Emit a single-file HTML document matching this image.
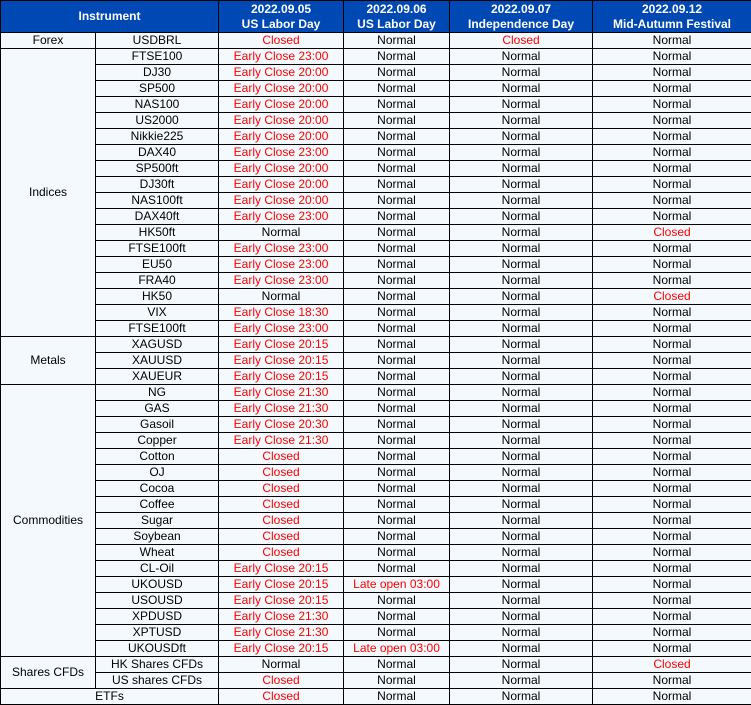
<!DOCTYPE html>
<html><head><meta charset="utf-8"><style>
html,body{margin:0;padding:0;background:#fff;}
table{border-collapse:collapse;table-layout:fixed;width:751px;font-family:"Liberation Sans","DejaVu Sans",sans-serif;font-size:12px;}
td,th{border:1px solid #000;padding:0;text-align:center;height:15px;line-height:15px;background:#f4f9fd;color:#000;white-space:nowrap;overflow:hidden;}
th{background:#0049b4;color:#fff;font-weight:bold;height:31px;line-height:15px;font-size:12px;}
.r{color:#ff0000;}
</style></head><body>
<table>
<colgroup><col style="width:95px"><col style="width:123px"><col style="width:125px"><col style="width:106px"><col style="width:143px"><col style="width:159px"></colgroup>
<tr><th colspan="2">Instrument</th><th>2022.09.05<br>US Labor Day</th><th>2022.09.06<br>US Labor Day</th><th>2022.09.07<br>Independence Day</th><th>2022.09.12<br>Mid-Autumn Festival</th></tr>
<tr><td>Forex</td><td>USDBRL</td><td class="r">Closed</td><td>Normal</td><td class="r">Closed</td><td>Normal</td></tr>
<tr><td rowspan="18">Indices</td><td>FTSE100</td><td class="r">Early Close 23:00</td><td>Normal</td><td>Normal</td><td>Normal</td></tr>
<tr><td>DJ30</td><td class="r">Early Close 20:00</td><td>Normal</td><td>Normal</td><td>Normal</td></tr>
<tr><td>SP500</td><td class="r">Early Close 20:00</td><td>Normal</td><td>Normal</td><td>Normal</td></tr>
<tr><td>NAS100</td><td class="r">Early Close 20:00</td><td>Normal</td><td>Normal</td><td>Normal</td></tr>
<tr><td>US2000</td><td class="r">Early Close 20:00</td><td>Normal</td><td>Normal</td><td>Normal</td></tr>
<tr><td>Nikkie225</td><td class="r">Early Close 20:00</td><td>Normal</td><td>Normal</td><td>Normal</td></tr>
<tr><td>DAX40</td><td class="r">Early Close 23:00</td><td>Normal</td><td>Normal</td><td>Normal</td></tr>
<tr><td>SP500ft</td><td class="r">Early Close 20:00</td><td>Normal</td><td>Normal</td><td>Normal</td></tr>
<tr><td>DJ30ft</td><td class="r">Early Close 20:00</td><td>Normal</td><td>Normal</td><td>Normal</td></tr>
<tr><td>NAS100ft</td><td class="r">Early Close 20:00</td><td>Normal</td><td>Normal</td><td>Normal</td></tr>
<tr><td>DAX40ft</td><td class="r">Early Close 23:00</td><td>Normal</td><td>Normal</td><td>Normal</td></tr>
<tr><td>HK50ft</td><td>Normal</td><td>Normal</td><td>Normal</td><td class="r">Closed</td></tr>
<tr><td>FTSE100ft</td><td class="r">Early Close 23:00</td><td>Normal</td><td>Normal</td><td>Normal</td></tr>
<tr><td>EU50</td><td class="r">Early Close 23:00</td><td>Normal</td><td>Normal</td><td>Normal</td></tr>
<tr><td>FRA40</td><td class="r">Early Close 23:00</td><td>Normal</td><td>Normal</td><td>Normal</td></tr>
<tr><td>HK50</td><td>Normal</td><td>Normal</td><td>Normal</td><td class="r">Closed</td></tr>
<tr><td>VIX</td><td class="r">Early Close 18:30</td><td>Normal</td><td>Normal</td><td>Normal</td></tr>
<tr><td>FTSE100ft</td><td class="r">Early Close 23:00</td><td>Normal</td><td>Normal</td><td>Normal</td></tr>
<tr><td rowspan="3">Metals</td><td>XAGUSD</td><td class="r">Early Close 20:15</td><td>Normal</td><td>Normal</td><td>Normal</td></tr>
<tr><td>XAUUSD</td><td class="r">Early Close 20:15</td><td>Normal</td><td>Normal</td><td>Normal</td></tr>
<tr><td>XAUEUR</td><td class="r">Early Close 20:15</td><td>Normal</td><td>Normal</td><td>Normal</td></tr>
<tr><td rowspan="17">Commodities</td><td>NG</td><td class="r">Early Close 21:30</td><td>Normal</td><td>Normal</td><td>Normal</td></tr>
<tr><td>GAS</td><td class="r">Early Close 21:30</td><td>Normal</td><td>Normal</td><td>Normal</td></tr>
<tr><td>Gasoil</td><td class="r">Early Close 20:30</td><td>Normal</td><td>Normal</td><td>Normal</td></tr>
<tr><td>Copper</td><td class="r">Early Close 21:30</td><td>Normal</td><td>Normal</td><td>Normal</td></tr>
<tr><td>Cotton</td><td class="r">Closed</td><td>Normal</td><td>Normal</td><td>Normal</td></tr>
<tr><td>OJ</td><td class="r">Closed</td><td>Normal</td><td>Normal</td><td>Normal</td></tr>
<tr><td>Cocoa</td><td class="r">Closed</td><td>Normal</td><td>Normal</td><td>Normal</td></tr>
<tr><td>Coffee</td><td class="r">Closed</td><td>Normal</td><td>Normal</td><td>Normal</td></tr>
<tr><td>Sugar</td><td class="r">Closed</td><td>Normal</td><td>Normal</td><td>Normal</td></tr>
<tr><td>Soybean</td><td class="r">Closed</td><td>Normal</td><td>Normal</td><td>Normal</td></tr>
<tr><td>Wheat</td><td class="r">Closed</td><td>Normal</td><td>Normal</td><td>Normal</td></tr>
<tr><td>CL-Oil</td><td class="r">Early Close 20:15</td><td>Normal</td><td>Normal</td><td>Normal</td></tr>
<tr><td>UKOUSD</td><td class="r">Early Close 20:15</td><td class="r">Late open 03:00</td><td>Normal</td><td>Normal</td></tr>
<tr><td>USOUSD</td><td class="r">Early Close 20:15</td><td>Normal</td><td>Normal</td><td>Normal</td></tr>
<tr><td>XPDUSD</td><td class="r">Early Close 21:30</td><td>Normal</td><td>Normal</td><td>Normal</td></tr>
<tr><td>XPTUSD</td><td class="r">Early Close 21:30</td><td>Normal</td><td>Normal</td><td>Normal</td></tr>
<tr><td>UKOUSDft</td><td class="r">Early Close 20:15</td><td class="r">Late open 03:00</td><td>Normal</td><td>Normal</td></tr>
<tr><td rowspan="2">Shares CFDs</td><td>HK Shares CFDs</td><td>Normal</td><td>Normal</td><td>Normal</td><td class="r">Closed</td></tr>
<tr><td>US shares CFDs</td><td class="r">Closed</td><td>Normal</td><td>Normal</td><td>Normal</td></tr>
<tr><td colspan="2">ETFs</td><td class="r">Closed</td><td>Normal</td><td>Normal</td><td>Normal</td></tr>
</table>
</body></html>
